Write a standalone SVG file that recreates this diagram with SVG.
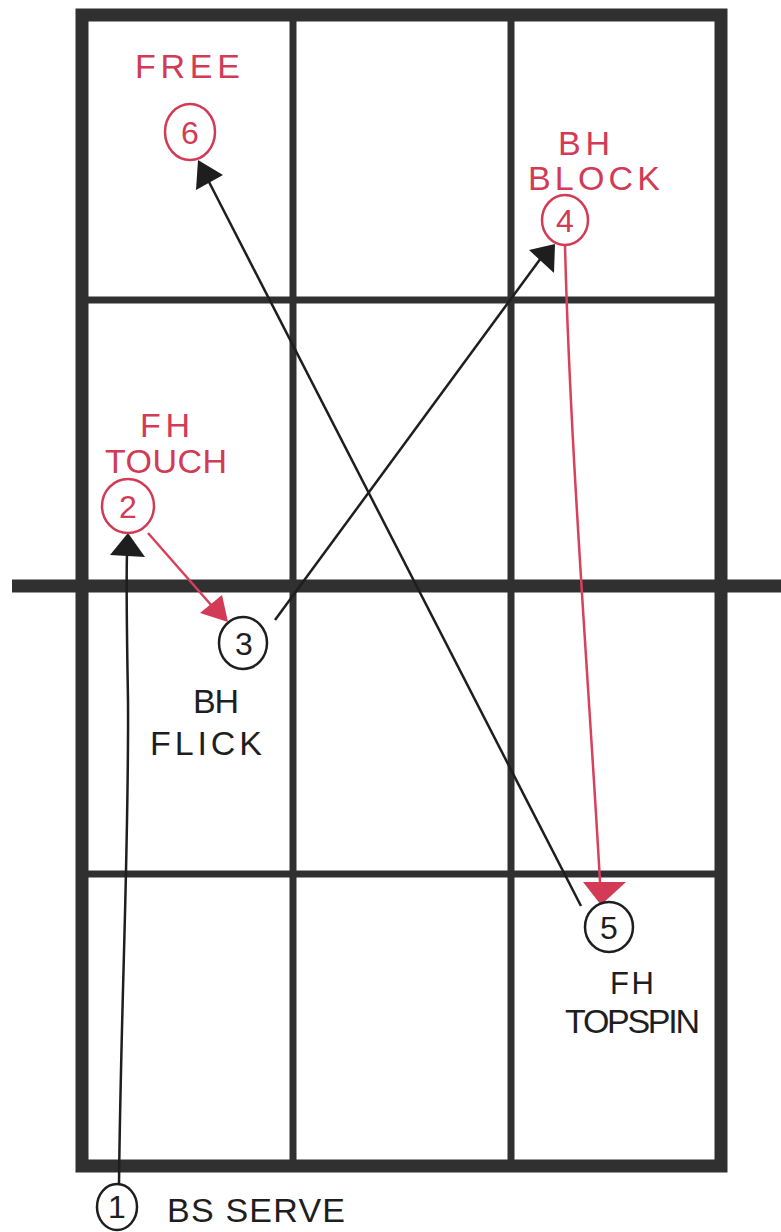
<svg xmlns="http://www.w3.org/2000/svg" width="781" height="1232" viewBox="0 0 781 1232">
<style>
.grid{stroke:#303030;fill:none}
.red{fill:#d23a55}
.blk{fill:#1e1e1e}
.t{font-family:"Liberation Sans",Arial,sans-serif;font-size:34px;font-weight:normal}
.n{font-family:"Liberation Sans",Arial,sans-serif;font-size:32px;text-anchor:middle}
.cr{fill:none;stroke:#d23a55;stroke-width:2.5}
.cb{fill:none;stroke:#1e1e1e;stroke-width:2.5}
.lb{fill:none;stroke:#1e1e1e;stroke-width:2.5}
.lr{fill:none;stroke:#d8405c;stroke-width:2.5}
</style>
<rect width="781" height="1232" fill="#fff"/>
<g id="table">
<rect class="grid" x="82" y="15" width="639" height="1151" stroke-width="13"/>
<line class="grid" x1="293" y1="15" x2="293" y2="1166" stroke-width="7"/>
<line class="grid" x1="511" y1="15" x2="511" y2="1166" stroke-width="7"/>
<line class="grid" x1="82" y1="300" x2="721" y2="300" stroke-width="7"/>
<line class="grid" x1="82" y1="874" x2="721" y2="874" stroke-width="7"/>
<line class="grid" x1="12" y1="586" x2="781" y2="586" stroke-width="13"/>
</g>
<g id="connectors">
<path class="lb" d="M119 1184 C121 1000 129 850 128 700 C127 640 126 590 127 553"/>
<polygon class="blk" points="128,533 110,555 145,557"/>
<path class="lr" d="M148 533 L212 606"/>
<polygon class="red" points="228,622 200,613 222,595"/>
<path class="lb" d="M275 620 L541 258"/>
<polygon class="blk" points="555,244 529,250 554,273"/>
<path class="lr" d="M565 245 C570 450 590 700 600 882"/>
<polygon class="red" points="601,905 583,882 626,882"/>
<path class="lb" d="M581 906 L208 180"/>
<polygon class="blk" points="198,160 196,190 223,175"/>
</g>
<g id="node6">
<text class="t red" x="135" y="78" textLength="105">FREE</text>
<ellipse class="cr" cx="190" cy="132" rx="25" ry="28"/>
<text class="n red" x="190" y="144">6</text>
</g>
<g id="node4">
<text class="t red" x="558" y="155" textLength="52">BH</text>
<text class="t red" x="528" y="190" textLength="132">BLOCK</text>
<ellipse class="cr" cx="565" cy="220" rx="23" ry="25"/>
<text class="n red" x="565" y="232">4</text>
</g>
<g id="node2">
<text class="t red" x="140" y="437" textLength="50">FH</text>
<text class="t red" x="105" y="473" textLength="122">TOUCH</text>
<ellipse class="cr" cx="128" cy="506" rx="26" ry="27"/>
<text class="n red" x="128" y="518">2</text>
</g>
<g id="node3">
<ellipse class="cb" cx="243" cy="643" rx="24" ry="26"/>
<text class="n blk" x="244" y="655">3</text>
<text class="t blk" x="193" y="713" textLength="46">BH</text>
<text class="t blk" x="150" y="755" textLength="112">FLICK</text>
</g>
<g id="node5">
<ellipse class="cb" cx="609" cy="927" rx="24" ry="25"/>
<text class="n blk" x="609" y="939">5</text>
<text class="t blk" x="610" y="994" textLength="44" style="font-size:31px">FH</text>
<text class="t blk" x="565" y="1033" textLength="135">TOPSPIN</text>
</g>
<g id="node1">
<ellipse class="cb" cx="117" cy="1207" rx="20" ry="23"/>
<text class="n blk" x="117" y="1218">1</text>
<text class="t blk" x="167" y="1222" textLength="178">BS SERVE</text>
</g>
</svg>
